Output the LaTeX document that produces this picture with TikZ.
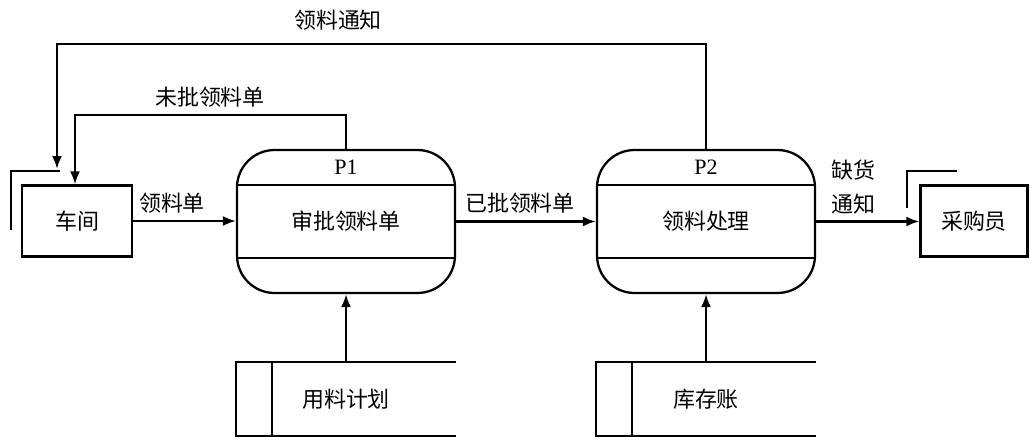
\documentclass[tikz,border=0pt]{standalone}
\usepackage{fontspec}
\setmainfont{Liberation Serif}
\newfontfamily\cjk{Noto Sans CJK SC}
\usetikzlibrary{arrows.meta}

\begin{document}
\begin{tikzpicture}[x=0.02cm,y=-0.02cm,line width=1.3pt,
    >={Latex[length=2.6mm,width=2mm]},
    font=\fontsize{12.5}{15}\selectfont\cjk]
      \tikzset{
      entity/.style = {draw,minimum width=2.2cm,minimum height=1.42cm},
      process/.style = {draw,rounded corners=0.75cm,minimum width=4.36cm,minimum height=2.86cm},
      store/.style = {minimum width=4.36cm,minimum height=1.44cm},
      flow/.style = {->} }
      \useasboundingbox (0,0) rectangle (1030,446);

      \node[entity] (shop) at (77,221) {车间};
      \node[entity,minimum width=2.14cm] (buyer) at (974,221) {采购员};

      \node[process] (p1) at (346,221.5) {审批领料单};
      \node[process] (p2) at (706,221.5) {领料处理};
      \node (p1id) at (346,167) {\rmfamily P1};
      \node (p2id) at (706,167) {\rmfamily P2};
      \draw ([yshift=-0.72cm]p1.north west) -- ([yshift=-0.72cm]p1.north east);
      \draw ([yshift=0.72cm]p1.south west) -- ([yshift=0.72cm]p1.south east);
      \draw ([yshift=-0.72cm]p2.north west) -- ([yshift=-0.72cm]p2.north east);
      \draw ([yshift=0.72cm]p2.south west) -- ([yshift=0.72cm]p2.south east);

      \node[store] (plan) at (346,399) {用料计划};
      \node[store] (stock) at (706,399) {库存账};
      \draw (plan.north east) -- (plan.north west) -- (plan.south west) -- (plan.south east);
      \draw ([xshift=0.72cm]plan.north west) -- ([xshift=0.72cm]plan.south west);
      \draw (stock.north east) -- (stock.north west) -- (stock.south west) -- (stock.south east);
      \draw ([xshift=0.72cm]stock.north west) -- ([xshift=0.72cm]stock.south west);

      \draw (11,230) |- (60,171);
      \draw (907,208) |- (957,171);
      \coordinate (notice) at (57,169);

      \draw[flow] (shop.east) -- (shop.east -| p1.west);
      \draw[flow] (p1.east) -- (p2.west);
      \draw[flow] (p2.east) -- (p2.east -| buyer.west);
      \draw[flow] (plan.north) -- (p1.south);
      \draw[flow] (stock.north) -- (p2.south);
      \draw[flow] (p1.north) -- (346,115) -| ([xshift=-0.04cm]shop.north);
      \draw[flow] (p2.north) -- (706,44) -| (notice);

      \node (l1) at (172,203) {领料单};
      \node (l2) at (520,203) {已批领料单};
      \node (l3) at (853,170) {缺货};
      \node (l4) at (853,204) {通知};
      \node (l5) at (210,97) {未批领料单};
      \node (l6) at (338,20) {领料通知};
\end{tikzpicture}
\end{document}
